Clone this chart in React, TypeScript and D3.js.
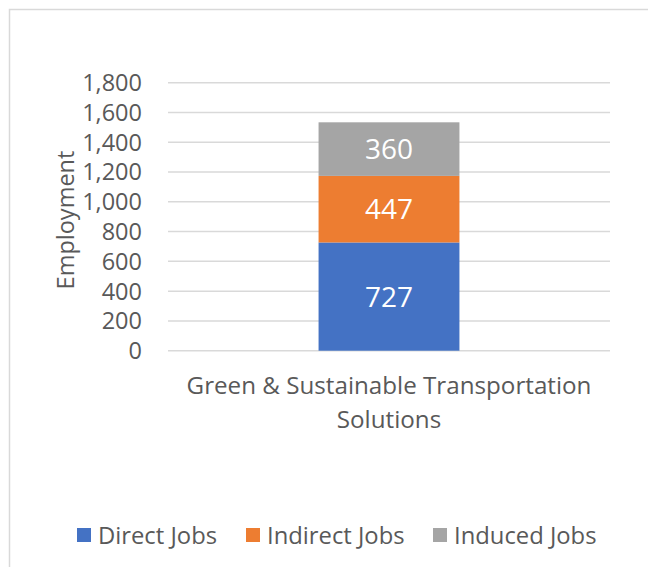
import React from 'react';
import * as d3 from 'd3';

const categories = ['Green & Sustainable Transportation Solutions'];
const categoryLines = [['Green & Sustainable Transportation', 'Solutions']];
const seriesNames = ['Direct Jobs', 'Indirect Jobs', 'Induced Jobs'];
const directJobs = [727];
const indirectJobs = [447];
const inducedJobs = [360];
const yTicks = [0, 200, 400, 600, 800, 1000, 1200, 1400, 1600, 1800];
const colors = ['#4472C4', '#ED7D31', '#A5A5A5'];

const WIDTH = 648;
const HEIGHT = 567;
const FONT = '"Open Sans", sans-serif';

export default function App() {
  const margin = { top: 82.7, left: 168, right: 38, bottom: 216.3 };
  const innerBottom = HEIGHT - margin.bottom;

  const yScale = d3.scaleLinear().domain([0, 1800]).range([innerBottom, margin.top]);
  const xScale = d3.scaleBand()
    .domain(categories)
    .range([margin.left, WIDTH - margin.right])
    .paddingInner(0.68)
    .paddingOuter(0.342);

  // build stack rows from the series arrays
  const rows = categories.map((c, i) => ({
    category: c,
    'Direct Jobs': directJobs[i],
    'Indirect Jobs': indirectJobs[i],
    'Induced Jobs': inducedJobs[i],
  }));
  const stacked = d3.stack().keys(seriesNames)(rows as any);
  const fmt = d3.format(',');

  // legend layout
  const legendX = [77, 246, 433];

  return (
    <svg
      width={WIDTH}
      height={HEIGHT}
      style={{ position: 'fixed', left: 0, top: 0, background: '#fff' }}
      fontFamily={FONT}
    >
      <rect x={9.5} y={9.5} width={WIDTH} height={HEIGHT} fill="#fff" stroke="#d9d9d9" strokeWidth={1.5} />

      {yTicks.map(t => (
        <g key={t}>
          <line
            x1={margin.left}
            x2={WIDTH - margin.right}
            y1={yScale(t)}
            y2={yScale(t)}
            stroke="#d9d9d9"
            strokeWidth={1.5}
          />
          <text
            x={142}
            y={yScale(t)}
            dy="0.36em"
            textAnchor="end"
            fontSize={23.5}
            fill="#595959"
          >
            {fmt(t)}
          </text>
        </g>
      ))}

      <text
        transform={`translate(74, 220) rotate(-90)`}
        textAnchor="middle"
        fontSize={23.5}
        fill="#595959"
      >
        Employment
      </text>

      {stacked.map((layer, si) => (
        <g key={layer.key}>
          {layer.map((d, i) => {
            const x = xScale(categories[i]) as number;
            const y0 = yScale(d[0]);
            const y1 = yScale(d[1]);
            return (
              <g key={i}>
                <rect x={x} y={y1} width={xScale.bandwidth()} height={y0 - y1} fill={colors[si]} />
                <text
                  x={x + xScale.bandwidth() / 2}
                  y={(y0 + y1) / 2}
                  dy="0.36em"
                  textAnchor="middle"
                  fontSize={28}
                  fill="#fff"
                >
                  {d[1] - d[0]}
                </text>
              </g>
            );
          })}
        </g>
      ))}

      {categories.map((c, i) => (
        <text
          key={c}
          x={(xScale(c) as number) + xScale.bandwidth() / 2}
          y={394}
          textAnchor="middle"
          fontSize={24.2}
          fill="#595959"
        >
          {categoryLines[i].map((line, li) => (
            <tspan key={li} x={(xScale(c) as number) + xScale.bandwidth() / 2} dy={li === 0 ? 0 : 34}>
              {line}
            </tspan>
          ))}
        </text>
      ))}

      {seriesNames.map((s, i) => (
        <g key={s} transform={`translate(${legendX[i]}, 535)`}>
          <rect x={0} y={-7} width={14} height={14} fill={colors[i]} />
          <text x={21} y={0} dy="0.36em" fontSize={23.8} fill="#595959">
            {s}
          </text>
        </g>
      ))}
    </svg>
  );
}
